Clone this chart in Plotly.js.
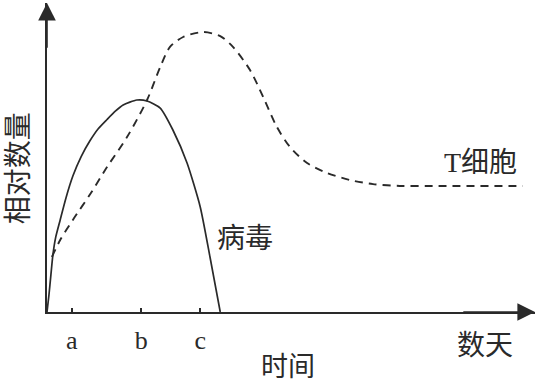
<!DOCTYPE html>
<html>
<head>
<meta charset="utf-8">
<script src="https://cdn.plot.ly/plotly-3.0.1.min.js"></script>
<style>html,body{margin:0;padding:0;background:#fff;}#chart{width:537px;height:381px;}</style>
</head>
<body>
<div id="chart"></div>
<script>
// Tick positions and labels on the time axis
const tickValues = [5.1, 19.3, 31.4];
const tickLabels = ['a', 'b', 'c'];

// Virus (solid curve)
const virusX = [0, 0.4, 0.8, 1.2, 1.8, 2.7, 3.9, 5.3, 7.0, 8.8, 10.5, 12.3, 14.0, 15.6, 18.4, 20.5, 23.2, 25.8, 28.7, 31.4, 33.4, 35.5];
const virusY = [0, 5.5, 12.0, 18.4, 24.3, 29.8, 37.0, 44.0, 50.3, 55.4, 59.3, 62.3, 65.0, 67.0, 68.6, 68.3, 66.0, 58.9, 48.2, 34.0, 17.8, 0];

// T cells (dashed curve)
const tcellX = [1.0, 2.7, 5.3, 9.0, 12.3, 16.4, 20.5, 23.2, 25.2, 27.9, 32.0, 35.5, 38.1, 41.6, 44.3, 47.1, 49.8, 53.3, 57.4, 62.1, 66.8, 72.3, 79.1, 97.5];
const tcellY = [17.8, 23.3, 29.8, 38.5, 46.9, 56.6, 68.6, 79.3, 85.8, 89.0, 90.6, 89.3, 85.8, 78.3, 69.6, 59.9, 53.4, 48.2, 45.0, 42.7, 41.4, 40.8, 40.8, 40.8];

const seriesLabels = ['病毒', 'T细胞'];
const xTitle = '时间';
const xUnit = '数天';
const yTitle = '相对数量';

const cjk = 'Liberation Serif, "Noto Sans CJK SC", serif';
const ink = '#2a2a2a';

const traces = [
  {x: virusX, y: virusY, mode: 'lines', line: {color: ink, width: 1.7, shape: 'spline', smoothing: 0.6}, hoverinfo: 'skip', showlegend: false},
  {x: tcellX, y: tcellY, mode: 'lines', line: {color: ink, width: 1.9, dash: '8px,6px', shape: 'spline', smoothing: 0.8}, hoverinfo: 'skip', showlegend: false}
];

const layout = {
  width: 537, height: 381,
  margin: {l: 47, r: 2, t: 3, b: 69},
  paper_bgcolor: '#fff', plot_bgcolor: '#fff',
  showlegend: false,
  xaxis: {
    range: [0, 100], showgrid: false, zeroline: false,
    showline: true, linecolor: ink, linewidth: 1.8,
    tickmode: 'array', tickvals: tickValues, ticktext: tickLabels,
    ticks: 'inside', ticklen: 4, tickwidth: 1.5, tickcolor: ink,
    ticklabelstandoff: 4,
    tickfont: {family: 'Liberation Serif, serif', size: 26, color: ink},
    fixedrange: true
  },
  yaxis: {
    range: [0, 100], showgrid: false, zeroline: false,
    showline: true, linecolor: ink, linewidth: 1.8,
    showticklabels: false, ticks: '', fixedrange: true
  },
  annotations: [
    {x: 0, y: 100, ax: 0, ay: 85, xref: 'x', yref: 'y', axref: 'x', ayref: 'y', text: '', showarrow: true, arrowhead: 2, arrowsize: 2.2, arrowwidth: 1.6, arrowcolor: ink, standoff: 0},
    {x: 100, y: 0, ax: 85, ay: 0, xref: 'x', yref: 'y', axref: 'x', ayref: 'y', text: '', showarrow: true, arrowhead: 2, arrowsize: 2.2, arrowwidth: 1.6, arrowcolor: ink, standoff: 0},
    {x: 40.6, y: 23.9, xref: 'x', yref: 'y', text: seriesLabels[0], showarrow: false, xanchor: 'center', yanchor: 'middle', font: {family: cjk, size: 28, color: ink}},
    {x: 88.9, y: 48.5, xref: 'x', yref: 'y', text: seriesLabels[1], showarrow: false, xanchor: 'center', yanchor: 'middle', font: {family: cjk, size: 28, color: ink}},
    {x: 0.494, y: -0.177, xref: 'paper', yref: 'paper', text: xTitle, showarrow: false, xanchor: 'center', yanchor: 'middle', font: {family: cjk, size: 27, color: ink}},
    {x: 0.898, y: -0.110, xref: 'paper', yref: 'paper', text: xUnit, showarrow: false, xanchor: 'center', yanchor: 'middle', font: {family: cjk, size: 28, color: ink}},
    {x: -0.059, y: 0.466, xref: 'paper', yref: 'paper', text: yTitle, textangle: -90, showarrow: false, xanchor: 'center', yanchor: 'middle', font: {family: cjk, size: 28, color: ink}}
  ]
};

Plotly.newPlot('chart', traces, layout, {displayModeBar: false, staticPlot: true});
</script>
</body>
</html>
